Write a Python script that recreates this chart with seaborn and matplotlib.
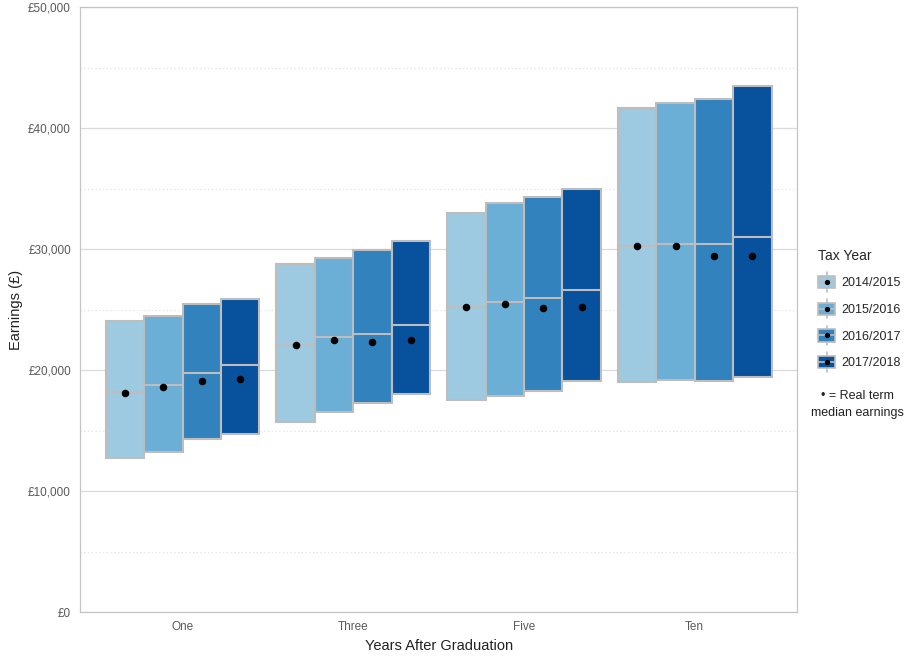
import numpy as np
import pandas as pd
import matplotlib
matplotlib.use("Agg")
import matplotlib.pyplot as plt
import seaborn as sns
from matplotlib.patches import Patch, Rectangle
from matplotlib.lines import Line2D
from matplotlib.legend_handler import HandlerBase
from matplotlib.ticker import FuncFormatter, MultipleLocator

sns.set_style("white")
plt.rcParams["font.family"] = ["Liberation Sans", "DejaVu Sans"]

years_after = ["One", "Three", "Five", "Ten"]
tax_years = ["2014/2015", "2015/2016", "2016/2017", "2017/2018"]

# rows = years after graduation, columns = tax year (in £)
lower_q = [[12700, 13200, 14300, 14700],
           [15700, 16500, 17300, 18000],
           [17500, 17900, 18300, 19100],
           [19000, 19200, 19100, 19400]]
median_q = [[18200, 18800, 19750, 20400],
            [22050, 22700, 23000, 23700],
            [25200, 25600, 25950, 26600],
            [30300, 30400, 30400, 31000]]
upper_q = [[24100, 24500, 25500, 25900],
           [28800, 29300, 29900, 30700],
           [33000, 33800, 34300, 35000],
           [41700, 42100, 42400, 43500]]
real_median = [[18100, 18600, 19100, 19300],
               [22100, 22500, 22300, 22500],
               [25200, 25450, 25100, 25200],
               [30300, 30250, 29400, 29400]]

rows = []
for i, ya in enumerate(years_after):
    for j, ty in enumerate(tax_years):
        rows.append({"years_after": ya, "tax_year": ty,
                     "lower": lower_q[i][j], "median": median_q[i][j],
                     "upper": upper_q[i][j], "real_median": real_median[i][j]})
df = pd.DataFrame(rows)

palette = ["#9ECAE1", "#6BAED6", "#3182BD", "#08519C"]
edge = "#BDBDBD"
box_w = 0.225


class BoxKeyHandler(HandlerBase):
    # legend key: small box with whisker, median line and a dot
    def create_artists(self, legend, orig_handle, xdescent, ydescent,
                       width, height, fontsize, trans):
        x0, y0 = -xdescent, -ydescent
        cx, cy = x0 + width / 2, y0 + height / 2
        whisker = Line2D([cx, cx], [y0 - height * 0.1, y0 + height * 1.1],
                         color=edge, lw=1.2)
        box = Rectangle((x0, y0 + height * 0.12), width, height * 0.76,
                        facecolor=orig_handle.get_facecolor(),
                        edgecolor=edge, lw=1.2)
        med = Line2D([x0, x0 + width], [cy, cy], color=edge, lw=1.2)
        dot = Line2D([cx], [cy], marker="o", color="black", markersize=2.8,
                     linestyle="none")
        arts = [whisker, box, med, dot]
        for a in arts:
            a.set_transform(trans)
        return arts


fig, ax = plt.subplots(figsize=(9.1, 6.56), dpi=100)
fig.subplots_adjust(left=0.088, right=0.876, bottom=0.067, top=0.989)

for j, ty in enumerate(tax_years):
    sub = df[df["tax_year"] == ty]
    xpos = np.arange(len(years_after)) + (j - 1.5) * box_w
    ax.bar(xpos, sub["upper"] - sub["lower"], bottom=sub["lower"], width=box_w,
           color=palette[j], edgecolor=edge, linewidth=1.5, zorder=2)
    ax.hlines(sub["median"], xpos - box_w / 2, xpos + box_w / 2,
              color=edge, linewidth=1.5, zorder=3)

sns.pointplot(data=df, x="years_after", y="real_median", hue="tax_year",
              order=years_after, hue_order=tax_years, dodge=box_w * 3,
              linestyle="none", palette=["black"] * 4, markers="o",
              markersize=3.4, errorbar=None, legend=False, ax=ax, zorder=4)

ax.set_xlim(-0.6, 3.6)
ax.set_ylim(0, 50000)
ax.yaxis.set_major_locator(MultipleLocator(10000))
ax.yaxis.set_minor_locator(MultipleLocator(5000))
ax.yaxis.set_major_formatter(FuncFormatter(lambda v, p: f"£{v:,.0f}"))
ax.set_axisbelow(True)
ax.grid(False)
ax.yaxis.grid(True, which="major", color="#DADADA", linewidth=0.9)
ax.yaxis.grid(True, which="minor", color="#E2E2E2", linewidth=0.9,
              linestyle=(0, (1, 2)))
for s in ax.spines.values():
    s.set_color("#C4C4C4")
    s.set_linewidth(0.9)
ax.tick_params(axis="both", which="major", length=3, color="#C4C4C4",
               labelcolor="#5A5A5A", labelsize=8.5)
ax.tick_params(axis="y", which="minor", length=0)
ax.set_xlabel("Years After Graduation", fontsize=10.5, color="#222222")
ax.set_ylabel("Earnings (£)", fontsize=10.5, color="#222222")

handles = [Patch(facecolor=c) for c in palette]
fig.legend(handles, tax_years, title="Tax Year", loc="upper left",
           bbox_to_anchor=(0.887, 0.637), frameon=False, fontsize=9,
           title_fontsize=10, handlelength=1.3, handleheight=1.6,
           labelspacing=0.85, handletextpad=0.5, alignment="left",
           handler_map={Patch: BoxKeyHandler()})
fig.text(0.942, 0.405, "• = Real term\nmedian earnings", ha="center",
         va="top", multialignment="center", fontsize=9, color="#222222",
         linespacing=1.5)

fig.savefig("out.png", dpi=100)
